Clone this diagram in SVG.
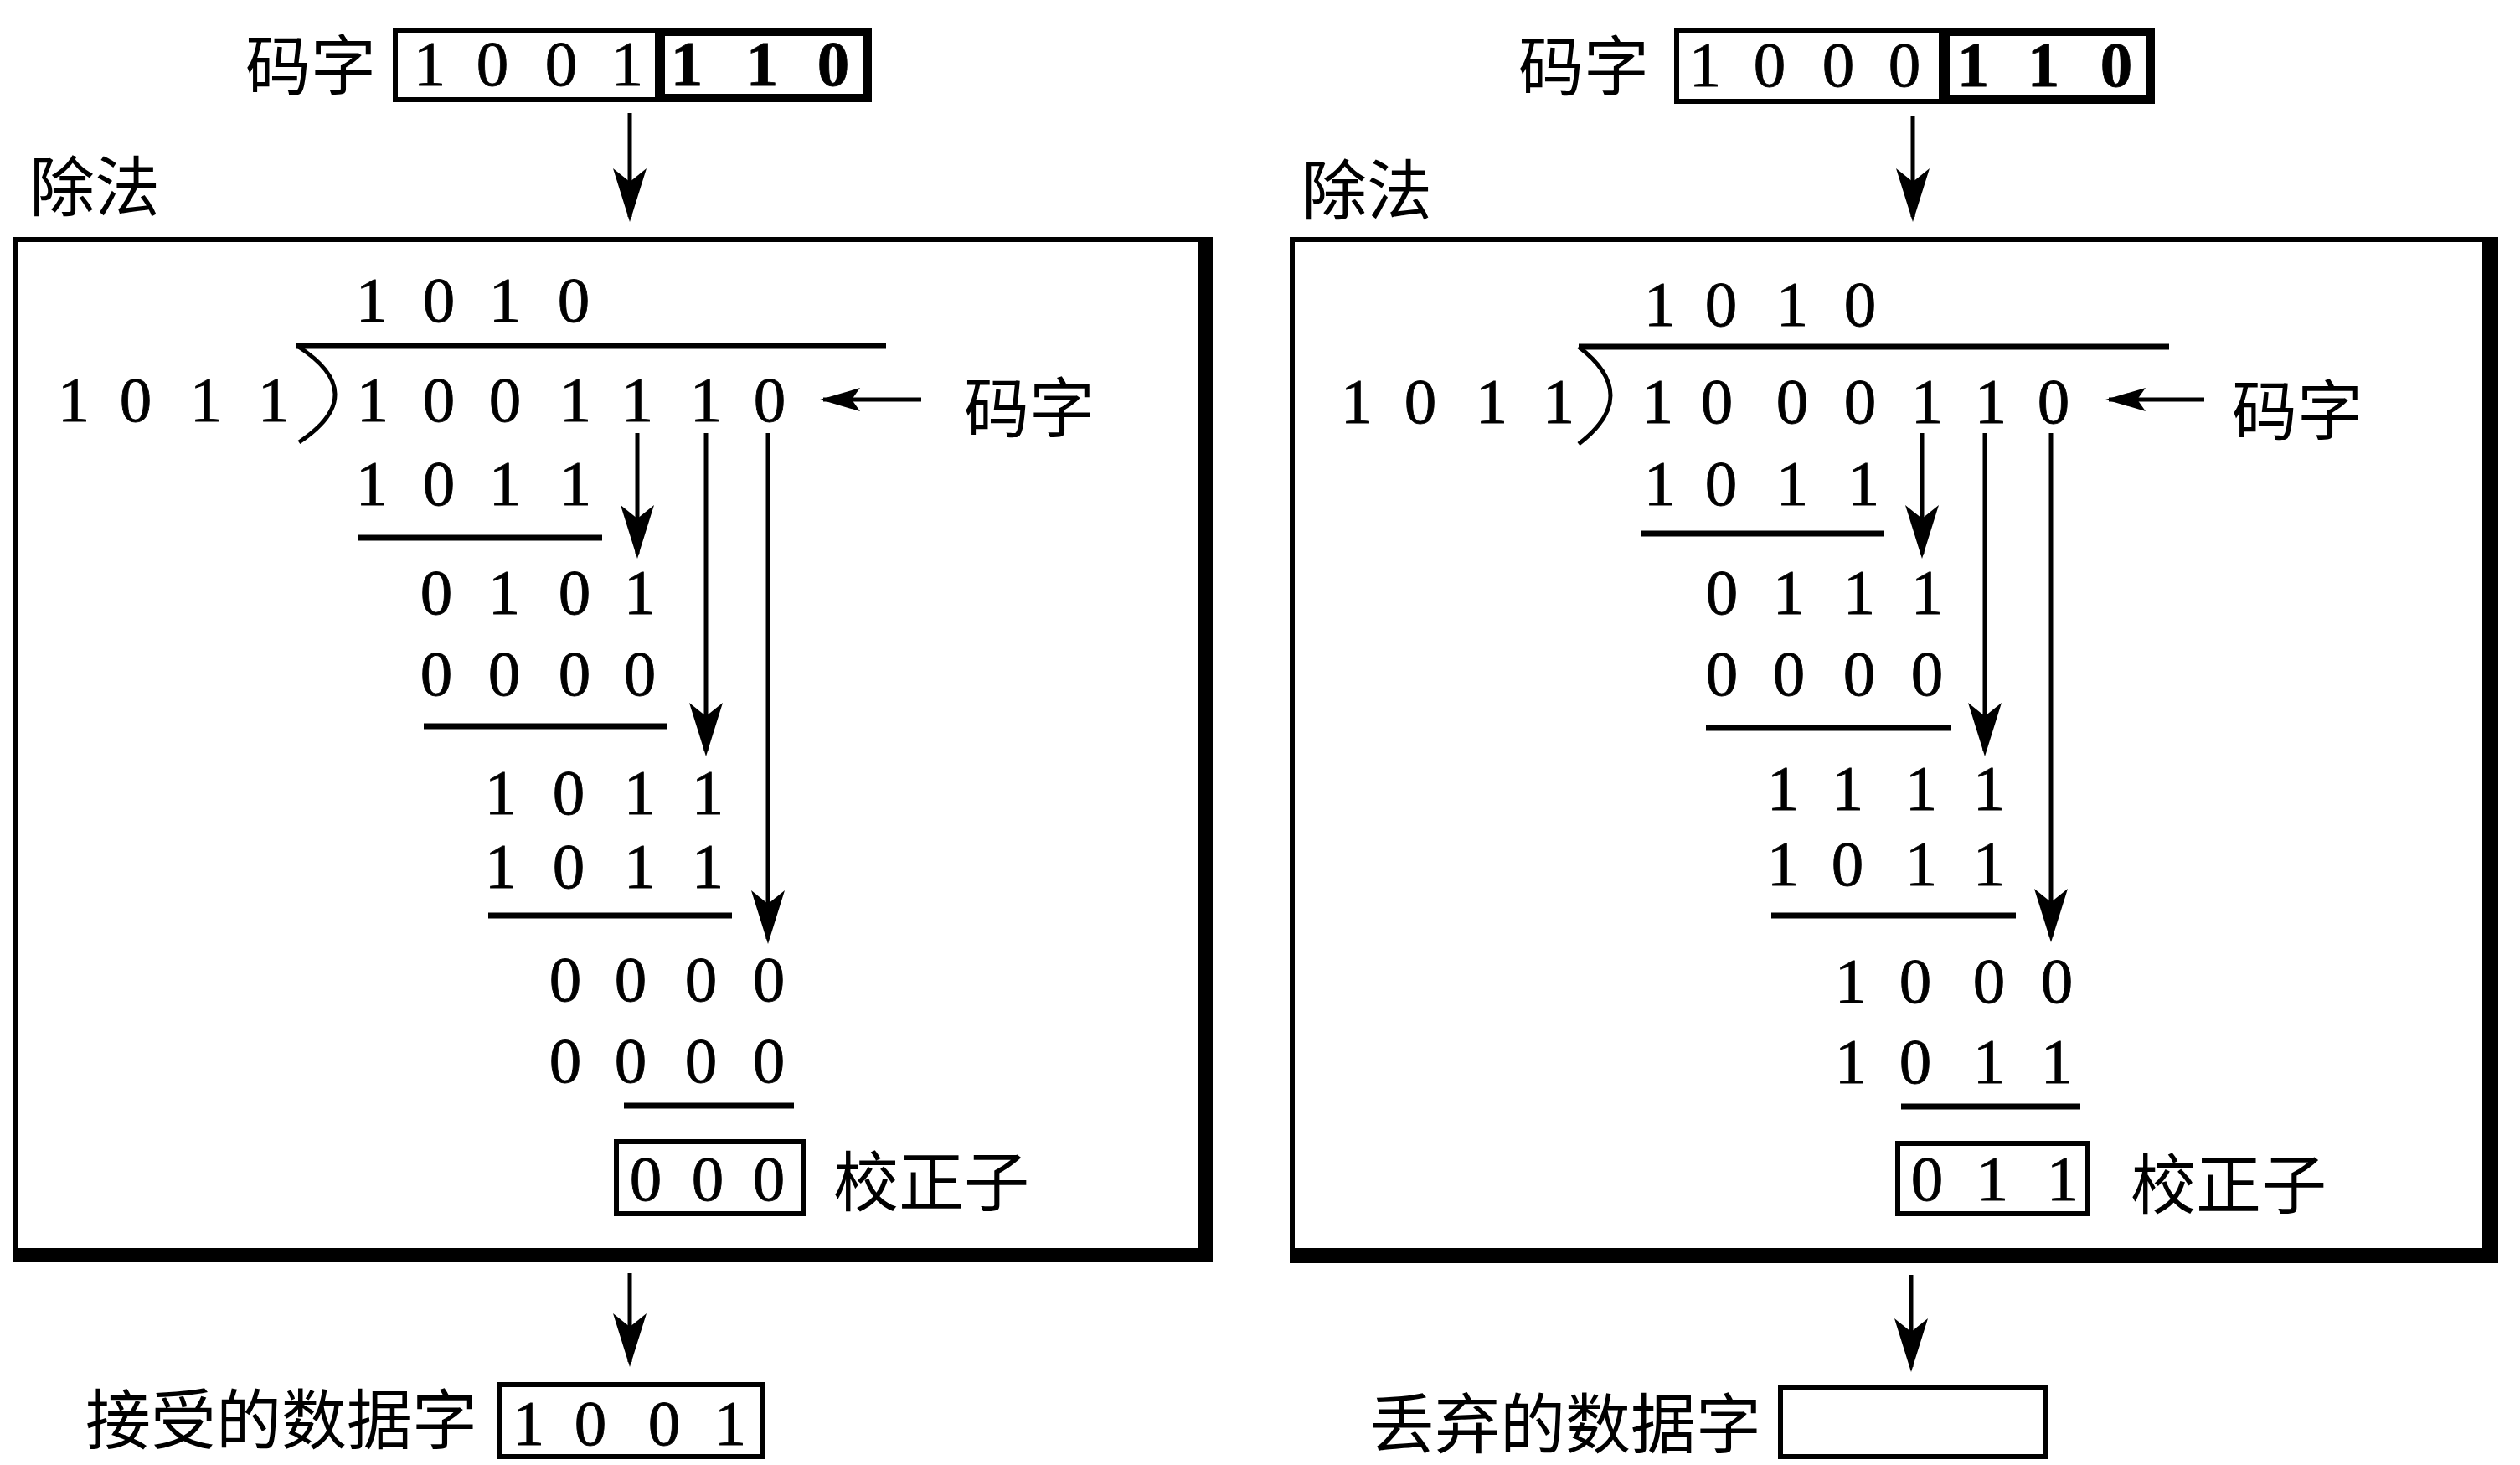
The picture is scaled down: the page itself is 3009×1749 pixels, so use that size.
<svg xmlns="http://www.w3.org/2000/svg" width="3009" height="1749" viewBox="0 0 3009 1749">
<style>
.d{font-family:"Liberation Serif","Times New Roman",serif;font-size:77px;fill:#000;text-anchor:middle;stroke:#000;stroke-width:0.8}
.b{font-weight:bold}
.c{font-family:"Noto Sans CJK SC","Noto Sans",sans-serif;font-size:78px;fill:#000;dominant-baseline:central}
.box{fill:none;stroke:#000;stroke-width:6}
.tbox{fill:none;stroke:#000;stroke-width:10}
.pan{fill:none;stroke:#000;stroke-width:6}
.ul{stroke:#000;stroke-width:7;fill:none}
.ln{stroke:#000;stroke-width:5;fill:none}
</style>
<defs>
<marker id="ah" markerUnits="userSpaceOnUse" markerWidth="72" markerHeight="50" viewBox="-68 -25 72 50" refX="-6" refY="0" orient="auto">
<path d="M0,0 L-64,-20 L-48,0 L-64,20 Z" fill="#000"/>
</marker>
<marker id="ahs" markerUnits="userSpaceOnUse" markerWidth="56" markerHeight="34" viewBox="-52 -17 56 34" refX="-4" refY="0" orient="auto">
<path d="M0,0 L-48,-14 L-38,0 L-48,14 Z" fill="#000"/>
</marker>
</defs>
<rect width="3009" height="1749" fill="#fff"/>

<!-- LEFT -->
<g id="left-codeword">
<text class="c" x="293" y="73">码字</text>
<rect class="box" x="472" y="36" width="313" height="83"/>
<rect class="tbox" x="789" y="38" width="247" height="79"/>
<text class="d" x="513 588 670 749" y="102">1001</text>
<text class="d b" x="820 910 995" y="102">110</text>
</g>
<g id="left-division-label"><text class="c" x="35" y="218">除法</text></g>
<g id="left-division">
<rect class="pan" x="18" y="286" width="1420" height="1212"/>
<rect x="1430" y="283" width="18" height="1224" fill="#000"/>
<rect x="15" y="1490" width="1433" height="17" fill="#000"/>
<text class="d" x="444 524 603 685" y="384">1010</text>
<line class="ul" x1="353" y1="413" x2="1058" y2="413"/>
<path class="ln" d="M355,413 Q444,470 357,528" stroke-width="6"/>
<text class="d" x="88 162 246 327" y="503">1011</text>
<text class="d" x="445 524 603 687 761 843 919" y="503">1001110</text>
<text class="c" x="1151" y="482">码字</text>
<text class="d" x="444 524 603 687" y="603">1011</text>
<line class="ul" x1="427" y1="642" x2="719" y2="642"/>
<text class="d" x="521 602 686 764" y="733">0101</text>
<text class="d" x="521 602 686 764" y="830">0000</text>
<line class="ul" x1="506" y1="867" x2="797" y2="867"/>
<text class="d" x="598 679 764 845" y="972">1011</text>
<text class="d" x="598 679 764 845" y="1060">1011</text>
<line class="ul" x1="583" y1="1093" x2="874" y2="1093"/>
<text class="d" x="675 753 837 918" y="1195">0000</text>
<text class="d" x="675 753 837 918" y="1292">0000</text>
<line class="ul" x1="745" y1="1320" x2="948" y2="1320"/>
</g>
<g id="left-syndrome">
<rect class="box" x="736" y="1363" width="223" height="86"/>
<text class="d" x="771 845 918" y="1433">000</text>
<text class="c" x="995" y="1406">校正子</text>
</g>
<g id="left-dataword">
<text class="c" x="102" y="1690">接受的数据字</text>
<rect class="box" x="597" y="1653" width="314" height="86"/>
<text class="d" x="631 705 793 872" y="1725">1001</text>
</g>

<!-- RIGHT -->
<g id="right-codeword">
<text class="c" x="1813" y="74">码字</text>
<rect class="box" x="2002" y="36" width="316" height="85"/>
<rect class="tbox" x="2323" y="38" width="245" height="81"/>
<text class="d" x="2036 2113 2195 2274" y="103">1000</text>
<text class="d b" x="2356 2440 2527" y="103">110</text>
</g>
<g id="right-division-label"><text class="c" x="1554" y="222">除法</text></g>
<g id="right-division">
<rect class="pan" x="1543" y="286" width="1430" height="1212"/>
<rect x="2964" y="283" width="19" height="1225" fill="#000"/>
<rect x="1540" y="1490" width="1443" height="18" fill="#000"/>
<text class="d" x="1982 2055 2140 2221" y="389">1010</text>
<line class="ul" x1="1885" y1="414" x2="2590" y2="414"/>
<path class="ln" d="M1885,414 Q1961,472 1885,530" stroke-width="6"/>
<text class="d" x="1620 1696 1781 1861" y="505">1011</text>
<text class="d" x="1979 2050 2140 2221 2301 2377 2452" y="505">1000110</text>
<text class="c" x="2665" y="485">码字</text>
<text class="d" x="1982 2055 2140 2225" y="603">1011</text>
<line class="ul" x1="1960" y1="637" x2="2249" y2="637"/>
<text class="d" x="2056 2136 2220 2301" y="733">0111</text>
<text class="d" x="2056 2136 2220 2301" y="830">0000</text>
<line class="ul" x1="2037" y1="869" x2="2329" y2="869"/>
<text class="d" x="2129 2206 2294 2375" y="967">1111</text>
<text class="d" x="2129 2206 2294 2375" y="1057">1011</text>
<line class="ul" x1="2115" y1="1093" x2="2407" y2="1093"/>
<text class="d" x="2210 2287 2375 2456" y="1197">1000</text>
<text class="d" x="2210 2287 2375 2456" y="1293">1011</text>
<line class="ul" x1="2270" y1="1321" x2="2484" y2="1321"/>
</g>
<g id="right-syndrome">
<rect class="box" x="2266" y="1365" width="226" height="84"/>
<text class="d" x="2301 2379 2463" y="1433">011</text>
<text class="c" x="2544" y="1409">校正子</text>
</g>
<g id="right-dataword">
<text class="c" x="1635" y="1695">丢弃的数据字</text>
<rect class="box" x="2126" y="1656" width="316" height="83" stroke-width="8"/>
</g>

<g id="connectors">
<line class="ln" x1="752" y1="135" x2="752" y2="259" marker-end="url(#ah)"/>
<line class="ln" x1="1100" y1="477" x2="983" y2="477" marker-end="url(#ahs)"/>
<line class="ln" x1="761" y1="517" x2="761" y2="661" marker-end="url(#ah)"/>
<line class="ln" x1="843" y1="517" x2="843" y2="897" marker-end="url(#ah)"/>
<line class="ln" x1="917" y1="517" x2="917" y2="1121" marker-end="url(#ah)"/>
<line class="ln" x1="752" y1="1520" x2="752" y2="1626" marker-end="url(#ah)"/>
<line class="ln" x1="2284" y1="138" x2="2284" y2="259" marker-end="url(#ah)"/>
<line class="ln" x1="2632" y1="477" x2="2518" y2="477" marker-end="url(#ahs)"/>
<line class="ln" x1="2295" y1="517" x2="2295" y2="661" marker-end="url(#ah)"/>
<line class="ln" x1="2370" y1="517" x2="2370" y2="897" marker-end="url(#ah)"/>
<line class="ln" x1="2449" y1="517" x2="2449" y2="1119" marker-end="url(#ah)"/>
<line class="ln" x1="2282" y1="1522" x2="2282" y2="1632" marker-end="url(#ah)"/>
</g>
</svg>
